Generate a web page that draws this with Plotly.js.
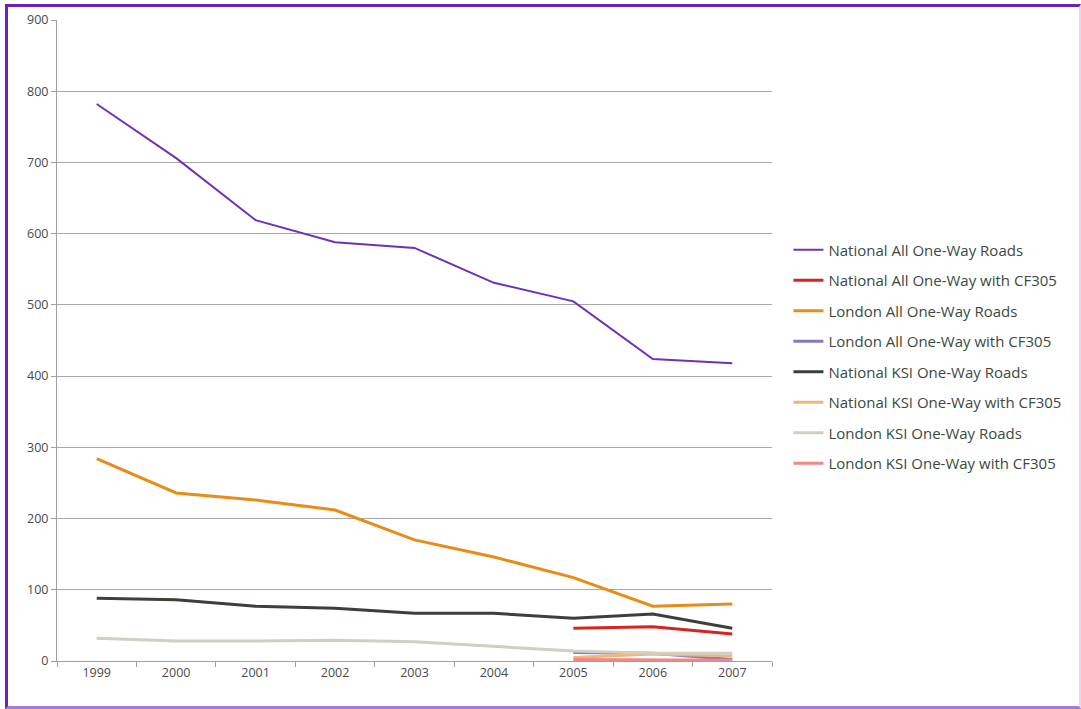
<!DOCTYPE html>
<html>
<head>
<meta charset="utf-8">
<script src="https://cdn.plot.ly/plotly-3.0.1.min.js"></script>
<style>
  html, body { margin: 0; padding: 0; background: #fff; }
  #wrap { position: relative; width: 1081px; height: 709px; }
  #chart { position: absolute; left: 0; top: 0; width: 1081px; height: 709px; }
  #frame {
    position: absolute; left: 5px; top: 4px; width: 1071px; height: 699px;
    border-left: 3px solid #6a22b8; border-top: 3px solid #6a22b8;
    border-bottom: 3px solid #a878e0; border-right: 2px solid #f0d0f4;
    pointer-events: none;
  }
</style>
</head>
<body>
<div id="wrap">
  <div id="chart"></div>
  <div id="frame"></div>
</div>
<script>
// Casualties on one-way roads, 1999-2007
const years = ['1999', '2000', '2001', '2002', '2003', '2004', '2005', '2006', '2007'];
const cfYears = ['2005', '2006', '2007'];

const nationalAll = [782, 706, 619, 588, 580, 531, 505, 424, 418];
const nationalAllCF305 = [46, 48, 38];
const londonAll = [284, 236, 226, 212, 170, 146, 117, 77, 80];
const londonAllCF305 = [12, 11, 2];
const nationalKSI = [88, 86, 77, 74, 67, 67, 60, 66, 46];
const nationalKSICF305 = [5, 10, 7];
const londonKSI = [32, 28, 28, 29, 27, 21, 14, 11, 11];
const londonKSICF305 = [2, 2, 1];

const seriesNames = [
  'National All One-Way Roads',
  'National All One-Way with CF305',
  'London All One-Way Roads',
  'London All One-Way with CF305',
  'National KSI One-Way Roads',
  'National KSI One-Way with CF305',
  'London KSI One-Way Roads',
  'London KSI One-Way with CF305'
];

const series = [
  { x: years,   y: nationalAll,      color: '#7030b8', w: 2 },
  { x: cfYears, y: nationalAllCF305, color: '#d42424', w: 3 },
  { x: years,   y: londonAll,        color: '#e88c18', w: 3 },
  { x: cfYears, y: londonAllCF305,   color: '#8878c0', w: 3 },
  { x: years,   y: nationalKSI,      color: '#3c4038', w: 3 },
  { x: cfYears, y: nationalKSICF305, color: '#f0b878', w: 3 },
  { x: years,   y: londonKSI,        color: '#cfcfc4', w: 3 },
  { x: cfYears, y: londonKSICF305,   color: '#f08888', w: 3 }
];

const traces = series.map((s, i) => ({
  type: 'scatter',
  mode: 'lines',
  name: seriesNames[i],
  legendgroup: 'g' + i,
  x: s.x,
  y: s.y,
  line: { color: s.color, width: s.w },
  hoverinfo: 'x+y+name'
}));

const layout = {
  width: 1081,
  height: 709,
  margin: { l: 57, r: 309, t: 20, b: 48 },
  paper_bgcolor: '#ffffff',
  plot_bgcolor: '#ffffff',
  font: { family: 'Open Sans, sans-serif', color: '#404040' },
  showlegend: true,
  legend: {
    x: 1.023, xanchor: 'left',
    y: 0.667, yanchor: 'top',
    tracegroupgap: 8,
    font: { size: 15, color: '#3a4a40' },
    bgcolor: 'rgba(0,0,0,0)'
  },
  xaxis: {
    type: 'category',
    categoryarray: years,
    range: [-0.5, 8.5],
    showgrid: false,
    showline: true,
    linecolor: '#a0a0a0',
    linewidth: 1,
    ticks: 'outside',
    tickson: 'boundaries',
    ticklen: 5,
    tickcolor: '#a0a0a0',
    tickfont: { size: 12.5, color: '#4a4a4a' },
    zeroline: false,
    fixedrange: true
  },
  yaxis: {
    range: [0, 900],
    dtick: 100,
    showgrid: true,
    gridcolor: '#a8a8a8',
    gridwidth: 1,
    showline: true,
    linecolor: '#a0a0a0',
    ticks: 'outside',
    ticklen: 5,
    tickcolor: '#a0a0a0',
    tickfont: { size: 12.5, color: '#4a4a4a' },
    zeroline: false,
    fixedrange: true
  }
};

Plotly.newPlot('chart', traces, layout, { displayModeBar: false, staticPlot: true });
</script>
</body>
</html>
